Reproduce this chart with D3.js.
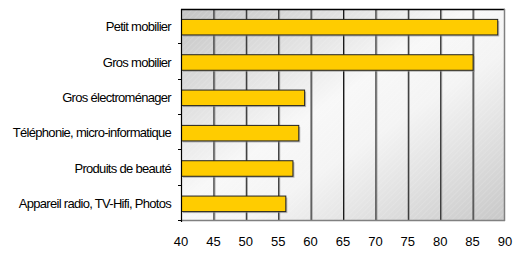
<!DOCTYPE html>
<html>
<head>
  <script src="https://d3js.org/d3.v7.min.js"></script>
  <style>
    body { margin: 0; background: #fff; }
    text { font-family: "Liberation Sans", Arial, sans-serif; fill: #000; }
  </style>
</head>
<body>
<div id="chart"></div>
<script>
// categories top to bottom and their values
var categories = ["Petit mobilier", "Gros mobilier", "Gros électroménager",
  "Téléphonie, micro-informatique", "Produits de beauté", "Appareil radio, TV-Hifi, Photos"];
var values = [88.8, 85.0, 59.0, 58.1, 57.2, 56.1];
var xTicks = [40, 45, 50, 55, 60, 65, 70, 75, 80, 85, 90];

var width = 530, height = 253;
var margin = { top: 9, right: 25, bottom: 32, left: 181 };
var w = width - margin.left - margin.right;
var h = height - margin.top - margin.bottom;

var svg = d3.select("#chart").append("svg")
  .attr("width", width)
  .attr("height", height);

var defs = svg.append("defs");
var grad = defs.append("linearGradient")
  .attr("id", "bg")
  .attr("x1", "0%").attr("y1", "0%")
  .attr("x2", "100%").attr("y2", "100%");
grad.append("stop").attr("offset", "0%").attr("stop-color", "#c4c4c4");
grad.append("stop").attr("offset", "45%").attr("stop-color", "#f8f8f8");
grad.append("stop").attr("offset", "60%").attr("stop-color", "#f4f4f4");
grad.append("stop").attr("offset", "100%").attr("stop-color", "#c8c8c8");

var hatch = defs.append("pattern")
  .attr("id", "hatch")
  .attr("width", 4).attr("height", 4)
  .attr("patternUnits", "userSpaceOnUse")
  .attr("patternTransform", "rotate(45)");
hatch.append("line")
  .attr("x1", 0).attr("y1", 0).attr("x2", 0).attr("y2", 4)
  .attr("stroke", "#ffffff").attr("stroke-opacity", 0.25).attr("stroke-width", 1);

var g = svg.append("g")
  .attr("transform", "translate(" + margin.left + "," + margin.top + ")");

// x and y scales
var x = d3.scaleLinear().domain([40, 90]).range([0, w]);
var y = d3.scaleBand().domain(categories).range([0, h]).paddingInner(0.56).paddingOuter(0.28);
var band = d3.scaleBand().domain(categories).range([0, h]);

// plot background
g.append("rect").attr("width", w).attr("height", h).attr("fill", "url(#bg)");
g.append("rect").attr("width", w).attr("height", h).attr("fill", "url(#hatch)");

// gridlines with a soft shadow
g.selectAll(".grid-shadow")
  .data(xTicks.slice(1, -1))
  .enter().append("line")
  .attr("x1", function(d) { return x(d) + 1.5; })
  .attr("x2", function(d) { return x(d) + 1.5; })
  .attr("y1", 0).attr("y2", h)
  .attr("stroke", "#9a9a9a").attr("stroke-width", 1);
g.selectAll(".grid")
  .data(xTicks.slice(1, -1))
  .enter().append("line")
  .attr("x1", function(d) { return x(d) + 0.5; })
  .attr("x2", function(d) { return x(d) + 0.5; })
  .attr("y1", 0).attr("y2", h)
  .attr("stroke", "#1a1a1a").attr("stroke-width", 1);

// border: top dark, right and bottom gray
g.append("line").attr("x1", 0).attr("x2", w).attr("y1", 0.5).attr("y2", 0.5)
  .attr("stroke", "#000").attr("stroke-width", 1.5);
g.append("line").attr("x1", w - 0.5).attr("x2", w - 0.5).attr("y1", 0).attr("y2", h)
  .attr("stroke", "#808080").attr("stroke-width", 1.5);
g.append("line").attr("x1", 0).attr("x2", w).attr("y1", h - 0.5).attr("y2", h - 0.5)
  .attr("stroke", "#808080").attr("stroke-width", 1.5);

// bar shadows
g.selectAll(".shadow")
  .data(values)
  .enter().append("rect")
  .attr("x", 2)
  .attr("y", function(d, i) { return y(categories[i]) + 2; })
  .attr("width", function(d) { return x(d) - x(40); })
  .attr("height", y.bandwidth())
  .attr("fill", "#8a8a8a").attr("fill-opacity", 0.6);

// bars
g.selectAll(".bar")
  .data(values)
  .enter().append("rect")
  .attr("x", 0.5)
  .attr("y", function(d, i) { return y(categories[i]) + 0.5; })
  .attr("width", function(d) { return x(d) - x(40); })
  .attr("height", y.bandwidth())
  .attr("fill", "#ffcc00")
  .attr("stroke", "#222").attr("stroke-width", 1);

// left axis line with ticks between categories
g.append("line").attr("x1", 0.5).attr("x2", 0.5).attr("y1", 0).attr("y2", h + 1)
  .attr("stroke", "#000").attr("stroke-width", 1.2);
var tickYs = categories.map(function(c) { return band(c); }).concat([h]);
g.selectAll(".ytick")
  .data(tickYs.slice(1))
  .enter().append("line")
  .attr("x1", -3).attr("x2", 0)
  .attr("y1", function(d) { return Math.round(d) - 0.5; })
  .attr("y2", function(d) { return Math.round(d) - 0.5; })
  .attr("stroke", "#000");

// category labels
g.selectAll(".ylabel")
  .data(categories)
  .enter().append("text")
  .attr("x", -10)
  .attr("y", function(d) { return band(d) + band.bandwidth() / 2; })
  .attr("dy", "0.35em")
  .attr("text-anchor", "end")
  .style("font-size", "13px")
  .style("letter-spacing", "-0.7px")
  .text(function(d) { return d; });

// x tick labels
g.selectAll(".xlabel")
  .data(xTicks)
  .enter().append("text")
  .attr("x", function(d) { return x(d); })
  .attr("y", h + 25)
  .attr("text-anchor", "middle")
  .style("font-size", "13px")
  .text(function(d) { return d; });
</script>
</body>
</html>
